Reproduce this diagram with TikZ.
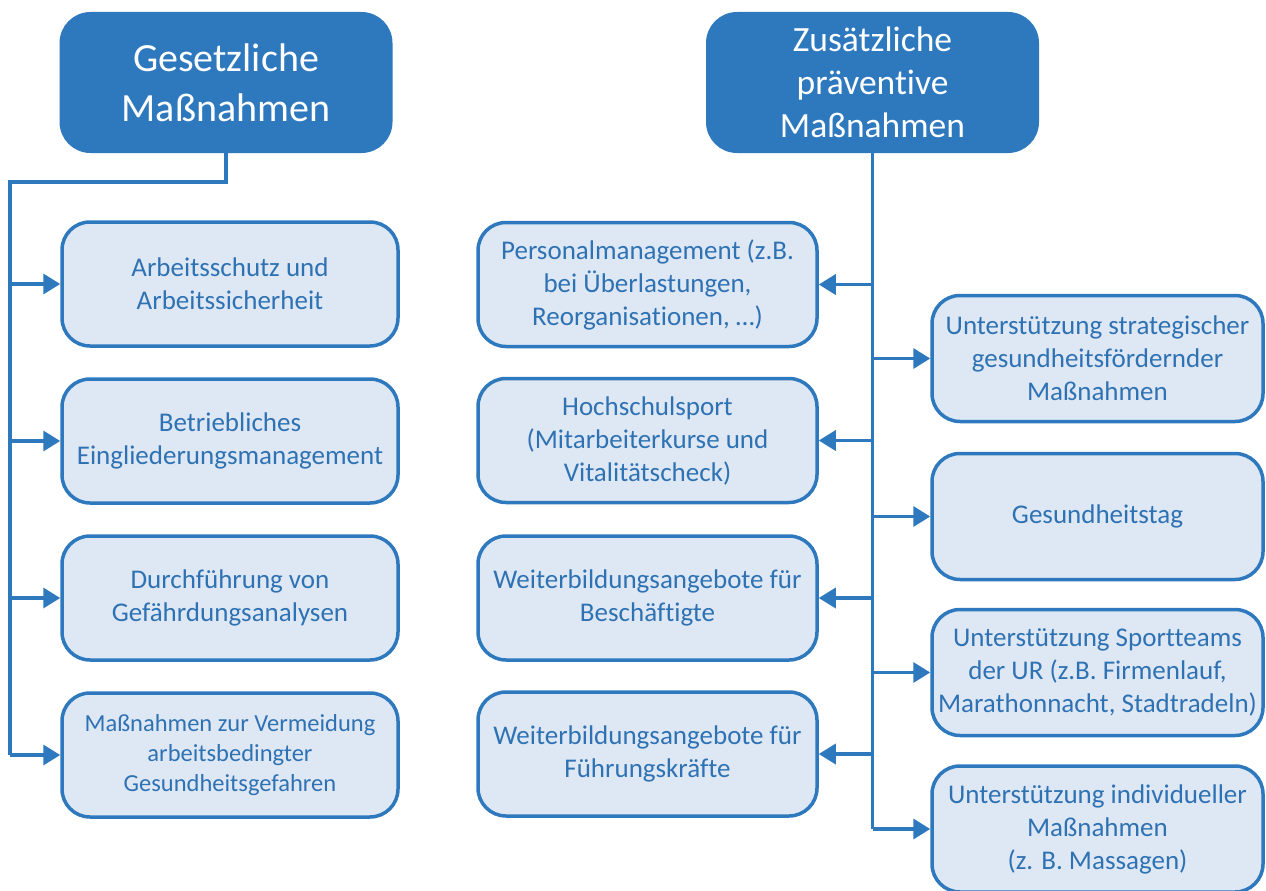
\documentclass[tikz,border=0pt]{standalone}
\usepackage{fontspec}
\setmainfont{Carlito}[Ligatures=NoCommon]
\usetikzlibrary{arrows.meta}
\definecolor{dkblue}{HTML}{2E78BE}
\definecolor{ltfill}{HTML}{DEE8F4}
\definecolor{txtblue}{HTML}{2E72B4}
\tikzset{
  headbox/.style={draw=dkblue, fill=dkblue, line width=2pt, rounded corners=30pt,
    minimum width=331pt, minimum height=139pt, inner sep=0pt, align=center,
    text=white},
  itembox/.style={draw=dkblue, fill=ltfill, line width=3.5pt, rounded corners=28pt,
    minimum height=124pt, inner sep=0pt, align=center, text=txtblue,
    font=\fontsize{27}{33}\selectfont},
  leftbox/.style={itembox, minimum width=336pt},
  midbox/.style={itembox, minimum width=339pt},
  rightbox/.style={itembox, minimum width=331pt, minimum height=126pt},
  conn/.style={draw=dkblue, line width=3.5pt},
  arr/.style={conn, -{Triangle[length=17pt, width=20pt]}}
}
\begin{document}
\begin{tikzpicture}[x=1pt, y=-1pt]
\useasboundingbox (0,0) rectangle (1266,891);

% headers
\node[headbox, font=\fontsize{40}{50}\selectfont] (G) at (226,82.5) {Gesetzliche\\Maßnahmen};
\node[headbox, font=\fontsize{35.5}{43}\selectfont] (Z) at (872.5,82.5) {Zusätzliche\\präventive\\Maßnahmen};

% left column
\node[leftbox] (L1) at (230,284) {Arbeitsschutz und\\Arbeitssicherheit};
\node[leftbox] (L2) at (230,441) {Betriebliches\\Eingliederungsmanagement};
\node[leftbox] (L3) at (230,598) {Durchführung von\\Gefährdungsanalysen};
\node[leftbox, font=\fontsize{24.5}{30}\selectfont] (L4) at (230,755) {Maßnahmen zur Vermeidung\\arbeitsbedingter\\Gesundheitsgefahren};

% middle column
\node[midbox] (M1) at (647.5,284.5) {Personalmanagement (z.B.\\bei Überlastungen,\\Reorganisationen, …)};
\node[midbox] (M2) at (647.5,440.5) {Hochschulsport\\(Mitarbeiterkurse und\\Vitalitätscheck)};
\node[midbox] (M3) at (647.5,598) {Weiterbildungsangebote für\\Beschäftigte};
\node[midbox] (M4) at (647.5,754) {Weiterbildungsangebote für\\Führungskräfte};

% right column
\node[rightbox] (R1) at (1097.5,358.5) {Unterstützung strategischer\\gesundheitsfördernder\\Maßnahmen};
\node[rightbox] (R2) at (1097.5,516.5) {Gesundheitstag};
\node[rightbox] (R3) at (1097.5,672.5) {Unterstützung Sportteams\\der UR (z.B. Firmenlauf,\\Marathonnacht, Stadtradeln)};
\node[rightbox] (R4) at (1097.5,829) {Unterstützung individueller\\Maßnahmen\\(z. B. Massagen)};

% left connectors
\coordinate (lt) at (10,182);
\draw[conn] (G.south) |- (lt) -- (lt |- L4.west);
\foreach \n in {L1,L2,L3,L4} \draw[arr] (lt |- \n.west) -- (\n.west);

% right connectors
\coordinate (rt) at (Z.south |- R4.west);
\draw[conn] (Z.south) -- (rt);
\foreach \n in {M1,M2,M3,M4} \draw[arr] (Z.south |- \n.east) -- (\n.east);
\foreach \n in {R1,R2,R3,R4} \draw[arr] (Z.south |- \n.west) -- (\n.west);
\end{tikzpicture}
\end{document}
